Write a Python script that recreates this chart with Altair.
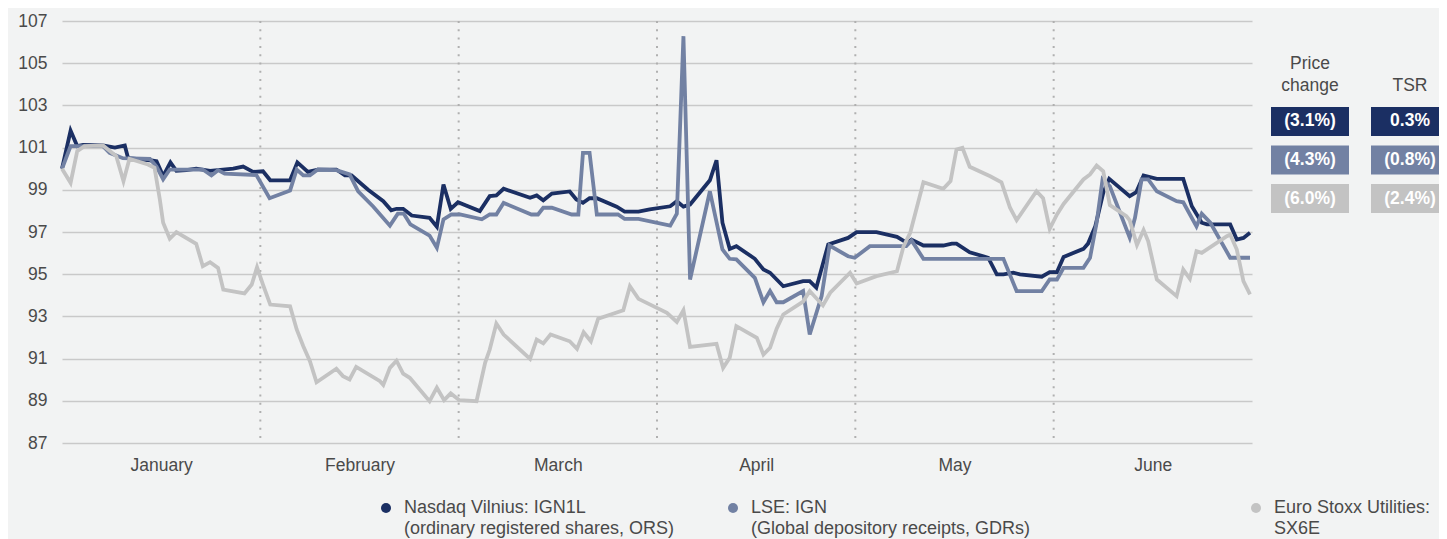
import altair as alt
import pandas as pd

# ---------------- data ----------------
MONTHS = ["January", "February", "March", "April", "May", "June"]
DAYS_PER_MONTH = 30
SERIES_KEYS = ["IGN1L", "IGN", "SX6E"]
SERIES_LABELS = [
    "Nasdaq Vilnius: IGN1L\n(ordinary registered shares, ORS)",
    "LSE: IGN\n(Global depository receipts, GDRs)",
    "Euro Stoxx Utilities:\nSX6E",
]
SERIES_COLORS = ["#1b2f63", "#7281a3", "#c3c3c3"]
TABLE_COLUMNS = ["Price change", "TSR"]
PRICE_CHANGE = ["(3.1%)", "(4.3%)", "(6.0%)"]
TSR = ["0.3%", "(0.8%)", "(2.4%)"]
Y_TICKS = list(range(87, 108, 2))

# (day of half-year on a 30-day-per-month axis, rebased value)
ign1l = [
    (0, 100.0), (1.3, 101.8), (2.3, 101.07), (3.2, 101.13), (6.2, 101.1), (8.0, 101.0),
    (9.5, 101.1), (10.0, 100.5), (13.3, 100.4), (14.3, 100.35), (15.3, 99.65), (16.4, 100.3),
    (17.3, 99.9), (18.8, 99.93), (20.3, 100.0), (22.4, 99.9), (25.9, 100.0), (27.4, 100.1),
    (28.9, 99.85), (30.4, 99.88), (31.5, 99.45), (34.5, 99.45), (35.6, 100.3), (37.2, 99.85),
    (38.7, 99.96), (41.5, 99.96), (42.8, 99.68), (43.8, 99.68), (46.3, 99.0), (48.6, 98.46),
    (49.8, 98.03), (50.6, 98.1), (51.6, 98.1), (52.9, 97.78), (55.6, 97.67), (56.7, 97.25),
    (57.7, 99.25), (58.8, 98.1), (59.9, 98.41), (63.2, 97.99), (64.7, 98.7), (65.7, 98.73),
    (66.8, 99.05), (70.8, 98.62), (71.8, 98.73), (72.8, 98.5), (74.1, 98.82), (76.8, 98.92),
    (77.8, 98.54), (78.8, 98.38), (79.8, 98.6), (80.9, 98.6), (83.9, 98.2), (85.1, 97.97),
    (87.2, 97.97), (88.9, 98.07), (92.0, 98.22), (93.0, 98.46), (94.0, 98.2), (95.0, 98.3),
    (98.0, 99.45), (99.0, 100.4), (99.9, 97.44), (101.0, 96.2), (102.0, 96.33), (104.8, 95.73),
    (106.1, 95.22), (107.1, 95.07), (109.1, 94.43), (112.1, 94.67), (113.1, 94.67), (114.1, 94.36),
    (115.9, 96.41), (118.9, 96.72), (120.2, 96.99), (123.2, 96.99), (126.3, 96.77), (127.8, 96.49),
    (128.5, 96.64), (130.3, 96.36), (133.3, 96.36), (134.6, 96.45), (135.3, 96.45), (137.3, 96.04),
    (140.1, 95.78), (141.4, 94.99), (142.4, 94.99), (143.9, 95.07), (144.9, 94.99), (148.2, 94.88),
    (149.4, 95.1), (150.5, 95.1), (151.5, 95.82), (154.5, 96.2), (155.2, 96.45), (156.3, 97.27),
    (157.5, 98.86), (158.4, 99.52), (161.5, 98.7), (162.5, 98.89), (163.6, 99.68), (165.6, 99.52),
    (169.6, 99.52), (170.9, 98.22), (172.4, 97.44), (173.2, 97.36), (176.7, 97.36), (177.7, 96.64),
    (178.7, 96.72), (179.7, 96.96),
]
ign = [
    (0, 100.0), (1.3, 101.07), (2.9, 101.07), (6.2, 101.07), (7.2, 100.75), (9.2, 100.5),
    (13.3, 100.46), (14.3, 100.1), (15.3, 99.5), (16.3, 99.96), (21.3, 99.96), (22.6, 99.68),
    (23.6, 99.93), (24.6, 99.77), (29.4, 99.7), (31.4, 98.6), (34.5, 98.97), (35.5, 99.96),
    (36.5, 99.68), (37.5, 99.68), (38.7, 99.96), (41.5, 99.93), (43.5, 99.73), (44.8, 98.93),
    (47.1, 98.2), (49.6, 97.3), (50.8, 97.87), (51.7, 97.87), (52.7, 97.36), (55.6, 96.83),
    (56.7, 96.25), (57.7, 97.6), (58.9, 97.83), (60.2, 97.83), (63.5, 97.6), (64.7, 97.83),
    (65.7, 97.83), (66.8, 98.38), (71.0, 97.83), (72.0, 97.83), (72.8, 98.15), (74.1, 98.15),
    (77.1, 97.83), (78.1, 97.83), (78.8, 100.75), (79.8, 100.75), (80.9, 97.83), (84.1, 97.83),
    (85.1, 97.62), (87.2, 97.62), (92.0, 97.3), (93.0, 97.87), (94.0, 106.28), (95.0, 94.75),
    (98.0, 98.93), (99.9, 96.17), (101.0, 95.73), (102.0, 95.7), (104.8, 94.83), (106.1, 93.67),
    (107.1, 94.2), (108.1, 93.67), (109.1, 93.67), (112.1, 94.2), (113.1, 92.14), (114.9, 93.96),
    (116.1, 96.36), (118.9, 95.85), (119.9, 95.78), (122.2, 96.33), (127.7, 96.33), (128.5, 96.6),
    (130.3, 95.73), (142.4, 95.73), (144.4, 94.2), (148.2, 94.2), (149.4, 94.75), (150.5, 94.75),
    (151.5, 95.3), (154.5, 95.3), (155.5, 95.78), (156.5, 97.44), (157.4, 99.5), (158.5, 99.17),
    (161.5, 96.73), (162.3, 97.67), (163.3, 99.49), (164.3, 99.49), (165.6, 98.93), (168.6, 98.46),
    (169.6, 98.41), (171.6, 97.27), (172.4, 97.87), (173.7, 97.44), (176.7, 95.78), (179.7, 95.78),
]
sx6e = [
    (0, 100.0), (1.3, 99.33), (2.3, 100.83), (3.4, 101.07), (6.2, 101.1), (8.2, 100.6),
    (9.3, 99.41), (10.2, 100.47), (13.0, 100.2), (14.0, 100.04), (14.8, 98.54), (15.3, 97.44),
    (16.3, 96.68), (17.3, 96.99), (20.3, 96.44), (21.3, 95.38), (22.4, 95.57), (23.6, 95.3),
    (24.4, 94.27), (27.6, 94.09), (28.7, 94.51), (29.5, 95.33), (30.4, 94.51), (31.5, 93.56),
    (34.5, 93.48), (35.5, 92.38), (36.5, 91.59), (37.5, 90.88), (38.5, 89.88), (41.5, 90.52),
    (42.5, 90.17), (43.5, 90.01), (44.5, 90.61), (48.1, 89.93), (48.6, 89.75), (49.6, 90.56),
    (50.6, 90.9), (51.6, 90.29), (52.6, 90.09), (55.6, 88.98), (56.7, 89.62), (57.8, 89.03),
    (58.8, 89.35), (60.1, 89.03), (62.7, 88.98), (64.0, 90.8), (64.7, 91.43), (65.7, 92.66),
    (66.8, 92.14), (70.8, 90.99), (71.8, 91.9), (72.8, 91.72), (73.9, 92.14), (76.8, 91.82),
    (77.9, 91.46), (78.9, 92.25), (80.0, 91.82), (81.1, 92.89), (84.9, 93.29), (85.9, 94.43),
    (87.2, 93.83), (91.5, 93.17), (93.0, 92.74), (94.0, 93.29), (95.0, 91.55), (99.0, 91.7),
    (100.0, 90.56), (101.0, 91.04), (102.0, 92.54), (105.1, 91.98), (106.1, 91.19), (107.1, 91.51),
    (108.1, 92.42), (109.1, 93.09), (112.1, 93.7), (113.1, 94.2), (115.1, 93.52), (116.2, 94.12),
    (119.2, 95.07), (120.2, 94.56), (123.2, 94.91), (126.3, 95.14), (127.3, 96.33), (128.3, 96.96),
    (130.3, 99.36), (133.3, 99.05), (134.4, 99.41), (135.3, 100.91), (136.2, 100.99), (137.3, 100.09),
    (140.4, 99.64), (142.1, 99.36), (143.4, 98.15), (144.4, 97.56), (147.4, 98.93), (148.4, 98.6),
    (149.4, 97.15), (150.5, 97.83), (151.5, 98.33), (154.5, 99.49), (155.5, 99.73), (156.5, 100.15),
    (157.5, 99.88), (158.5, 98.28), (161.0, 97.75), (161.5, 97.55), (162.6, 96.38), (163.6, 97.09),
    (164.3, 96.56), (165.6, 94.75), (168.6, 93.96), (169.6, 95.22), (170.6, 94.78), (171.6, 96.09),
    (172.4, 96.01), (176.2, 96.8), (176.7, 96.88), (177.7, 96.17), (178.7, 94.67), (179.7, 94.04),
]

# ---------------- tables built from the lists ----------------
rows = []
for key, pts in zip(SERIES_KEYS, [ign1l, ign, sx6e]):
    for d, v in pts:
        rows.append({"series": key, "day": d, "value": v})
lines_df = pd.DataFrame(rows)

bounds_df = pd.DataFrame({"b": [DAYS_PER_MONTH * i for i in range(1, len(MONTHS))]})

table_rows = []
for k, pc, t in zip(SERIES_KEYS, PRICE_CHANGE, TSR):
    table_rows.append({"series": k, "col": TABLE_COLUMNS[0], "label": pc})
    table_rows.append({"series": k, "col": TABLE_COLUMNS[1], "label": t})
table_df = pd.DataFrame(table_rows)


def header_text(name):
    words = name.split(" ")
    return "\n".join(([""] if len(words) == 1 else []) + words)


header_df = pd.DataFrame({"col": TABLE_COLUMNS, "text": [header_text(c) for c in TABLE_COLUMNS]})
legend_df = pd.DataFrame({"series": SERIES_KEYS, "label": SERIES_LABELS})

# ---------------- styling / layout ----------------
FONT = "Liberation Sans"
TEXT_COLOR = "#4a4a4a"
FS = 17.5
W, H = 1190, 422

x_scale = alt.Scale(domain=[0, DAYS_PER_MONTH * len(MONTHS)], nice=False, zero=False)
y_scale = alt.Scale(domain=[87, 107], nice=False, zero=False)
month_js = "[" + ",".join(f"'{m}'" for m in MONTHS) + "]"
x_axis = alt.Axis(
    values=[DAYS_PER_MONTH * (i + 0.5) for i in range(len(MONTHS))],
    labelExpr=f"{month_js}[floor(datum.value/{DAYS_PER_MONTH})]",
    title=None, grid=False, domain=False, ticks=False, tickSize=0,
    labelPadding=13, labelAngle=0, labelFontSize=FS, labelColor=TEXT_COLOR,
    labelFont=FONT, labelFlush=False,
)
y_axis = alt.Axis(
    values=Y_TICKS, title=None, grid=True, gridColor="#c9c9c9", gridWidth=1.4,
    domain=False, ticks=False, tickSize=0, labelPadding=15, labelFontSize=FS,
    labelColor=TEXT_COLOR, labelFont=FONT,
)
color_enc = alt.Color("series:N", scale=alt.Scale(domain=SERIES_KEYS, range=SERIES_COLORS), legend=None)

rules = alt.Chart(bounds_df).mark_rule(color="#b0b0b0", strokeWidth=2, strokeDash=[2, 6.3]).encode(
    x=alt.X("b:Q", scale=x_scale, axis=x_axis)
)
line_layers = [
    alt.Chart(lines_df)
    .transform_filter(alt.datum.series == k)
    .mark_line(strokeWidth=3.8)
    .encode(
        x=alt.X("day:Q", scale=x_scale, axis=x_axis),
        y=alt.Y("value:Q", scale=y_scale, axis=y_axis),
        color=color_enc,
    )
    for k in SERIES_KEYS
]
plot = alt.layer(rules, *line_layers)

# table to the right of the plot
tx = alt.X("col:N", scale=alt.Scale(domain=TABLE_COLUMNS, range=[1209, 1387], paddingInner=0.22, paddingOuter=0), axis=None)
ty = alt.Y("series:N", scale=alt.Scale(domain=SERIES_KEYS, range=[86, 192], paddingInner=0.25, paddingOuter=0), axis=None)
boxes = alt.Chart(table_df).mark_rect().encode(x=tx, y=ty, color=color_enc)
box_text = alt.Chart(table_df).mark_text(color="white", fontSize=FS, fontWeight="bold", font=FONT).encode(
    x=tx, y=ty, text="label:N"
)
header = alt.Chart(header_df).mark_text(
    fontSize=FS, color=TEXT_COLOR, lineBreak="\n", lineHeight=22, baseline="middle", font=FONT
).encode(x=tx, y=alt.value(43), text="text:N")
table = alt.layer(boxes, box_text, header)

# legend below the plot
LEGEND_X = [324, 671, 1194]
LEGEND_Y = 487
LEGEND_FS = 18
legend_layers = []
for k, lx in zip(SERIES_KEYS, LEGEND_X):
    base = alt.Chart(legend_df).transform_filter(alt.datum.series == k)
    legend_layers.append(
        base.mark_circle(size=100, opacity=1).encode(x=alt.value(lx), y=alt.value(LEGEND_Y), color=color_enc)
    )
    legend_layers.append(
        base.mark_text(
            align="left", baseline="middle", dx=18, fontSize=LEGEND_FS, lineBreak="\n", lineHeight=21,
            color=TEXT_COLOR, font=FONT,
        ).encode(x=alt.value(lx), y=alt.value(LEGEND_Y), text="label:N")
    )
legend = alt.layer(*legend_layers)

chart = (
    alt.layer(plot, table, legend)
    .resolve_scale(x="independent", y="independent")
    .properties(
        width=W, height=H,
        autosize=alt.AutoSizeParams(type="none"),
        padding={"left": 54, "top": 13, "right": 187, "bottom": 96},
        background="#f2f3f3",
    )
    .configure_view(stroke=None)
)

chart.save("out.html", embed_options={"renderer": "svg", "actions": False})
